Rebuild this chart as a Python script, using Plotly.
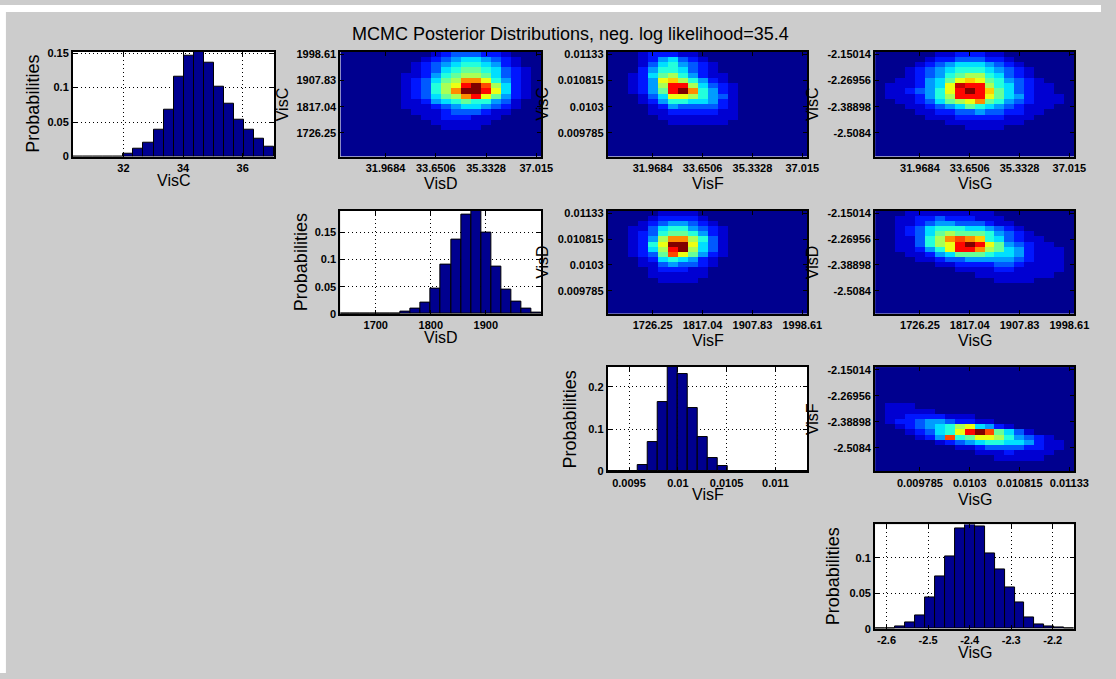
import numpy as np
import plotly.graph_objects as go

W, H = 1116, 679

# ---------------- histogram data (probabilities per bin, 20 bins) ----------------
visc_range = [30.31, 37.06]
visc_prob = [0, 0, 0, 0, 0, 0.0042, 0.0113, 0.0198, 0.0387, 0.0679, 0.1156, 0.1462,
             0.152, 0.1354, 0.1014, 0.0764, 0.0538, 0.0387, 0.0259, 0.0142]
visd_range = [1635.7, 2000.9]
visd_prob = [0, 0, 0, 0, 0, 0, 0.0037, 0.0091, 0.0207, 0.0463, 0.0902, 0.1366,
             0.1829, 0.190, 0.1488, 0.0878, 0.0445, 0.0226, 0.0091, 0.0024]
visf_range = [0.009282, 0.011326]
visf_prob = [0, 0, 0, 0.0148, 0.0693, 0.164, 0.2467, 0.2296, 0.1486, 0.0817, 0.0311,
             0.0117, 0, 0, 0, 0, 0, 0, 0, 0]
visg_range = [-2.6276, -2.148]
visg_prob = [0.0005, 0.001, 0.0037, 0.0084, 0.0181, 0.0437, 0.0744, 0.1014, 0.1419,
             0.147, 0.1437, 0.1065, 0.0837, 0.0581, 0.0372, 0.0158, 0.0065, 0.0037,
             0.0023, 0.0005]

visc_xticks = [32, 34, 36]
visc_xtext = ["32", "34", "36"]
visd_xticks = [1700, 1800, 1900]
visd_xtext = ["1700", "1800", "1900"]
visf_xticks = [0.0095, 0.01, 0.0105, 0.011]
visf_xtext = ["0.0095", "0.01", "0.0105", "0.011"]
visg_xticks = [-2.6, -2.5, -2.4, -2.3, -2.2]
visg_xtext = ["-2.6", "-2.5", "-2.4", "-2.3", "-2.2"]
prob_ticks_a = [0, 0.05, 0.1, 0.15]
prob_text_a = ["0", "0.05", "0.1", "0.15"]
prob_ticks_f = [0, 0.1, 0.2]
prob_text_f = ["0", "0.1", "0.2"]
prob_ticks_g = [0, 0.05, 0.1]
prob_text_g = ["0", "0.05", "0.1"]

# ---------------- 2-D posterior images (20x20, hex level 0..F on jet) ----------------
img_c_d = [
    "00000000012333221000",
    "00000000123455432100",
    "00000001234566542100",
    "00000001235677653210",
    "00000011246788753210",
    "000000123578BB964210",
    "000000123689DFC85210",
    "00000012368BFFD95210",
    "000000123578BD974210",
    "00000011245676643100",
    "00000011123455432100",
    "00000001112333211000",
    "00000000112221110000",
    "00000000011111100000",
    "00000000001111000000",
    "00000000000000000000",
    "00000000000000000000",
    "00000000000000000000",
    "00000000000000000000",
    "00000000000000000000",
]
img_c_f = [
    "00012221100000000000",
    "00012453210000000000",
    "00013564321000000000",
    "00024665321000000000",
    "00125786421100000000",
    "001249A8642100000000",
    "001248DD853210000000",
    "001247DFB64210000000",
    "00013599864310000000",
    "00012466554210000000",
    "00001243333210000000",
    "00001122222110000000",
    "00000111111110000000",
    "00000011111100000000",
    "00000000000000000000",
    "00000000000000000000",
    "00000000000000000000",
    "00000000000000000000",
    "00000000000000000000",
    "00000000000000000000",
]
img_c_g = [
    "00000011222110000000",
    "00000122333221000000",
    "00001234555432100000",
    "00012345666543210000",
    "00012346788653210000",
    "001124579A9764321000",
    "01112459EDD865321100",
    "01123469DFDA75321100",
    "01112468DDD975421110",
    "0011235789B764321110",
    "00011234576543211100",
    "00001122334332211000",
    "00000111222221110000",
    "00000001111111100000",
    "00000000011110000000",
    "00000000000000000000",
    "00000000000000000000",
    "00000000000000000000",
    "00000000000000000000",
    "00000000000000000000",
]
img_d_f = [
    "00000111100000000000",
    "00001222210000000000",
    "00012344321000000000",
    "00113566432100000000",
    "00123677642100000000",
    "001248BB863100000000",
    "001269FF953100000000",
    "001258DF853100000000",
    "001237C9742100000000",
    "00012565421000000000",
    "00011343321000000000",
    "00001222110000000000",
    "00001111110000000000",
    "00000111100000000000",
    "00000000000000000000",
    "00000000000000000000",
    "00000000000000000000",
    "00000000000000000000",
    "00000000000000000000",
    "00000000000000000000",
]
img_d_g = [
    "00011111111100000000",
    "00112232221110000000",
    "00112344333211000000",
    "00123566655432100000",
    "00123578777643210000",
    "0011368BCBA653211000",
    "00113689DFD974321100",
    "00112469DDB875421110",
    "00011245777655421110",
    "00001123344444321110",
    "00000011222233211110",
    "00000000111122111110",
    "00000000001111111100",
    "00000000000011110000",
    "00000000000000000000",
    "00000000000000000000",
    "00000000000000000000",
    "00000000000000000000",
    "00000000000000000000",
    "00000000000000000000",
]
img_f_g = [
    "00000000000000000000",
    "00000000000000000000",
    "00000000000000000000",
    "00000000000000000000",
    "00000000000000000000",
    "00000000000000000000",
    "00000000000000000000",
    "01110000000000000000",
    "01111100000000000000",
    "01122221110000000000",
    "01223443221100000000",
    "00123456895421000000",
    "000123569DFC75310000",
    "0000124C679986432100",
    "00000012345665542110",
    "00000000112333322110",
    "00000000001112111100",
    "00000000000011111000",
    "00000000000000000000",
    "00000000000000000000",
]

visc_labels = ["31.9684", "33.6506", "35.3328", "37.015"]
visd_labels_x = ["1726.25", "1817.04", "1907.83", "1998.61"]
visf_labels_x = ["0.009785", "0.0103", "0.010815", "0.01133"]
visd_labels_y = ["1998.61", "1907.83", "1817.04", "1726.25"]
visf_labels_y = ["0.01133", "0.010815", "0.0103", "0.009785"]
visg_labels_y = ["-2.15014", "-2.26956", "-2.38898", "-2.5084"]

title_text = "MCMC Posterior Distributions, neg. log likelihood=35.4"

# ---------------- layout geometry (pixels) ----------------
cols_px = [(74, 278), (345, 548.7), (616, 818.3), (887, 1089)]
rows_px = [(47.5, 154), (209, 314), (368, 474), (528, 634)]

JET = [[0.0, "rgb(0,0,143)"], [0.111, "rgb(0,0,255)"], [0.365, "rgb(0,255,255)"],
       [0.619, "rgb(255,255,0)"], [0.873, "rgb(255,0,0)"], [1.0, "rgb(128,0,0)"]]
BAR = "rgb(0,0,143)"
TICKFONT = dict(family="Liberation Sans", size=11, color="black", weight="bold")
LABFONT = dict(family="Liberation Sans", size=16, color="black")


def xdom(c):
    a, b = cols_px[c]
    return [a / W, b / W]


def ydom(r):
    a, b = rows_px[r]
    return [1 - b / H, 1 - a / H]


def decode(rows):
    return [[int(ch, 16) for ch in row] for row in rows]


fig = go.Figure()
layout = {}
annotations = []


def base_axis():
    return dict(showline=True, linecolor="black", linewidth=2, mirror="allticks",
                ticks="inside", ticklen=4, tickcolor="black", tickwidth=1,
                tickfont=TICKFONT, zeroline=False)


def add_label(text, px, py, size=16, angle=0):
    annotations.append(dict(text=text, x=px / W, y=1 - py / H, xref="paper", yref="paper",
                            showarrow=False, xanchor="center", yanchor="middle",
                            textangle=angle, font=dict(LABFONT, size=size)))


hists = [
    (0, 0, visc_range, visc_prob, visc_xticks, visc_xtext, prob_ticks_a, prob_text_a, "VisC"),
    (1, 1, visd_range, visd_prob, visd_xticks, visd_xtext, prob_ticks_a, prob_text_a, "VisD"),
    (2, 2, visf_range, visf_prob, visf_xticks, visf_xtext, prob_ticks_f, prob_text_f, "VisF"),
    (3, 3, visg_range, visg_prob, visg_xticks, visg_xtext, prob_ticks_g, prob_text_g, "VisG"),
]
heats = [
    (0, 1, img_c_d, visc_labels, visd_labels_y, "VisD", "VisC"),
    (0, 2, img_c_f, visc_labels, visf_labels_y, "VisF", "VisC"),
    (0, 3, img_c_g, visc_labels, visg_labels_y, "VisG", "VisC"),
    (1, 2, img_d_f, visd_labels_x, visf_labels_y, "VisF", "VisD"),
    (1, 3, img_d_g, visd_labels_x, visg_labels_y, "VisG", "VisD"),
    (2, 3, img_f_g, visf_labels_x, visg_labels_y, "VisG", "VisF"),
]

ylab_x_hist = [34, 305, 578, 844]
ylab_x_heat = {1: 286, 2: 550, 3: 823}
GRID = dict(showgrid=True, gridcolor="black", griddash="1px,3px", gridwidth=1)

idx = 0
for (r, c, rng, prob, xt, xtt, yt, ytt, lab) in hists:
    idx += 1
    xa, ya = ("x" if idx == 1 else f"x{idx}"), ("y" if idx == 1 else f"y{idx}")
    n = len(prob)
    edges = np.linspace(rng[0], rng[1], n + 1)
    centers = (edges[:-1] + edges[1:]) / 2
    fig.add_trace(go.Bar(x=centers, y=prob, width=(rng[1] - rng[0]) / n,
                         marker=dict(color=BAR, line=dict(color="black", width=1)),
                         xaxis=xa, yaxis=ya, showlegend=False, hoverinfo="skip"))
    ax = base_axis()
    ax.update(domain=xdom(c), anchor=ya, range=list(rng), tickvals=xt, ticktext=xtt, **GRID)
    ay = base_axis()
    ay.update(domain=ydom(r), anchor=xa, range=[0, max(prob)], tickvals=yt, ticktext=ytt,
              **GRID)
    layout["xaxis" if idx == 1 else f"xaxis{idx}"] = ax
    layout["yaxis" if idx == 1 else f"yaxis{idx}"] = ay
    x0, x1 = cols_px[c]
    y0, y1 = rows_px[r]
    add_label("Probabilities", ylab_x_hist[r], (y0 + y1) / 2, size=18, angle=-90)
    add_label(lab, (x0 + x1) / 2, y1 + 24)

for (r, c, img, xl, yl, xlab, ylab) in heats:
    idx += 1
    xa, ya = f"x{idx}", f"y{idx}"
    z = decode(img)
    fig.add_trace(go.Heatmap(z=z, x=list(range(1, 21)), y=list(range(1, 21)),
                             colorscale=JET, zmin=0, zmax=15, showscale=False,
                             xaxis=xa, yaxis=ya, hoverinfo="skip"))
    ax = base_axis()
    ax.update(domain=xdom(c), anchor=ya, range=[0.5, 20.5], tickvals=[5, 10, 15, 20],
              ticktext=xl, showgrid=False)
    ay = base_axis()
    ay.update(domain=ydom(r), anchor=xa, range=[20.5, 0.5], tickvals=[1, 6, 11, 16],
              ticktext=yl, showgrid=False)
    layout[f"xaxis{idx}"] = ax
    layout[f"yaxis{idx}"] = ay
    x0, x1 = cols_px[c]
    y0, y1 = rows_px[r]
    add_label(ylab, ylab_x_heat[c], (y0 + y1) / 2, angle=-90)
    add_label(xlab, (x0 + x1) / 2, y1 + (29 if r == 2 else 27))

annotations.append(dict(text=title_text, x=578 / W, y=1 - 29 / H, xref="paper", yref="paper",
                        showarrow=False, xanchor="center", yanchor="middle",
                        font=dict(family="Liberation Sans", size=18, color="black")))

shapes = [
    dict(type="rect", xref="paper", yref="paper", x0=0, x1=1, y0=1 - 7 / H, y1=1,
         fillcolor="white", line=dict(width=0), layer="below"),
    dict(type="rect", xref="paper", yref="paper", x0=0, x1=6 / W, y0=0, y1=1,
         fillcolor="white", line=dict(width=0), layer="below"),
]

fig.update_layout(width=W, height=H, margin=dict(l=0, r=0, t=0, b=0, pad=0),
                  paper_bgcolor="rgb(204,204,204)", plot_bgcolor="white",
                  annotations=annotations, shapes=shapes, bargap=0, **layout)

fig.write_html("out.html")
